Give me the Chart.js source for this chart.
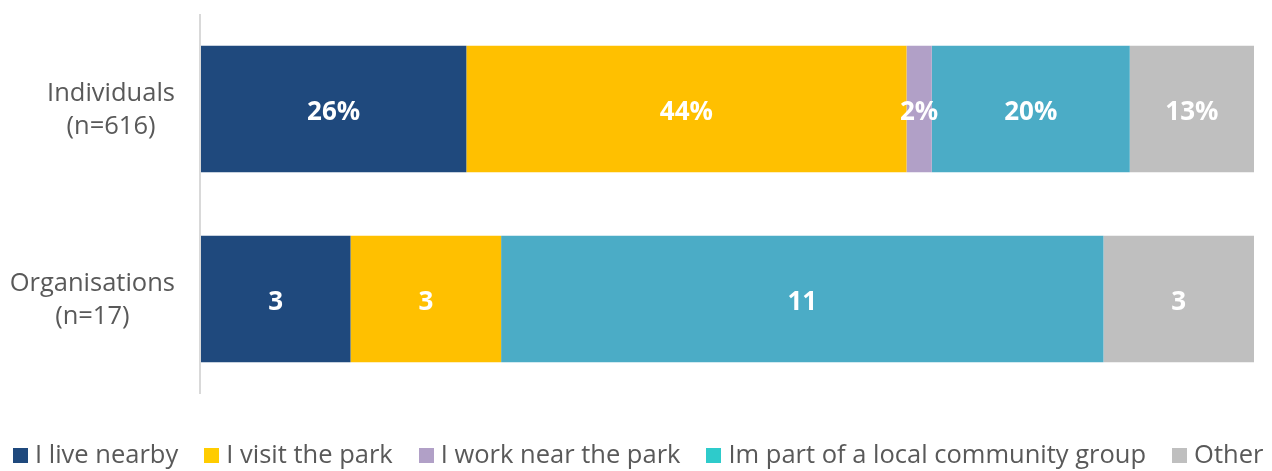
<!DOCTYPE html>
<html>
<head>
<meta charset="utf-8">
<script src="https://cdn.jsdelivr.net/npm/chart.js@4.4.1/dist/chart.umd.min.js"></script>
<style>
html,body{margin:0;padding:0;background:#fff;width:1272px;height:471px;overflow:hidden;}
#wrap{position:relative;width:1272px;height:471px;}
#chart{position:absolute;left:0;top:0;}
#legend{position:absolute;left:0;top:436px;width:1272px;text-align:center;white-space:nowrap;font-family:"Open Sans",sans-serif;font-size:25.5px;line-height:34px;color:#595959;}
.item{display:inline-block;margin:0 13px;}
.box{display:inline-block;width:15px;height:15px;margin-right:7px;vertical-align:baseline;}
</style>
</head>
<body>
<div id="wrap">
<canvas id="chart" width="1272" height="471"></canvas>
<div id="legend"></div>
</div>
<script>
// ---- data ----
const categories = [["Individuals", "(n=616)"], ["Organisations", "(n=17)"]];
const seriesNames = ["I live nearby", "I visit the park", "I work near the park", "Im part of a local community group", "Other"];

// share of each bar (% of bar length)
const liveNearby     = [25.2, 14.2];
const visitPark      = [41.8, 14.3];
const workNearPark   = [2.4, 0];
const communityGroup = [18.8, 57.2];
const other          = [11.8, 14.3];

// printed value labels
const liveNearbyLabels     = ["26%", "3"];
const visitParkLabels      = ["44%", "3"];
const workNearParkLabels   = ["2%", ""];
const communityGroupLabels = ["20%", "11"];
const otherLabels          = ["13%", "3"];

const barColors    = ["#1F497D", "#FFC000", "#B1A0C7", "#4BACC6", "#BFBFBF"];
const legendColors = ["#1F497D", "#FFCC00", "#B1A0C7", "#2ECBCB", "#BFBFBF"];
const axisColor = "#D9D9D9";

const seriesValues = [liveNearby, visitPark, workNearPark, communityGroup, other];
const seriesLabels = [liveNearbyLabels, visitParkLabels, workNearParkLabels, communityGroupLabels, otherLabels];

const datasets = seriesNames.map((name, i) => ({
  label: name,
  data: seriesValues[i],
  valueLabels: seriesLabels[i],
  backgroundColor: barColors[i],
  borderWidth: 0,
  categoryPercentage: 0.667,
  barPercentage: 1.0
}));

const customDraw = {
  id: "customDraw",
  beforeDatasetsDraw(chart) {
    const {ctx, chartArea} = chart;
    ctx.save();
    ctx.fillStyle = axisColor;
    ctx.fillRect(chartArea.left - 2, chartArea.top, 2, chartArea.bottom - chartArea.top);
    ctx.restore();
  },
  afterDatasetsDraw(chart) {
    const {ctx, chartArea} = chart;
    const yScale = chart.scales.y;
    ctx.save();
    ctx.font = '25.5px "Open Sans"';
    ctx.fillStyle = "#595959";
    ctx.textAlign = "center";
    ctx.textBaseline = "alphabetic";
    categories.forEach((lines, i) => {
      const cy = yScale.getPixelForValue(i);
      const maxW = Math.max(...lines.map(l => ctx.measureText(l).width));
      const cx = chartArea.left - 26 - maxW / 2;
      lines.forEach((l, j) => ctx.fillText(l, cx, cy - 8 + j * 32.6));
    });
    ctx.font = 'bold 26px "Open Sans"';
    ctx.fillStyle = "#FFFFFF";
    chart.data.datasets.forEach((ds, di) => {
      const meta = chart.getDatasetMeta(di);
      meta.data.forEach((el, i) => {
        const txt = ds.valueLabels[i];
        if (!txt) return;
        ctx.fillText(txt, (el.x + el.base) / 2, el.y + 10.5);
      });
    });
    ctx.restore();
  }
};

new Chart(document.getElementById("chart"), {
  type: "bar",
  data: { labels: categories.map(c => c.join(" ")), datasets },
  options: {
    indexAxis: "y",
    responsive: false,
    animation: false,
    devicePixelRatio: 1,
    layout: { padding: { left: 201, right: 18, top: 14, bottom: 77 } },
    scales: {
      x: { stacked: true, min: 0, max: 100, display: false },
      y: { stacked: true, display: false }
    },
    plugins: { legend: { display: false }, tooltip: { enabled: false } }
  },
  plugins: [customDraw]
});

// HTML legend
const legendEl = document.getElementById("legend");
seriesNames.forEach((name, i) => {
  const item = document.createElement("span");
  item.className = "item";
  const box = document.createElement("span");
  box.className = "box";
  box.style.background = legendColors[i];
  item.appendChild(box);
  item.appendChild(document.createTextNode(name));
  legendEl.appendChild(item);
});
</script>
</body>
</html>
